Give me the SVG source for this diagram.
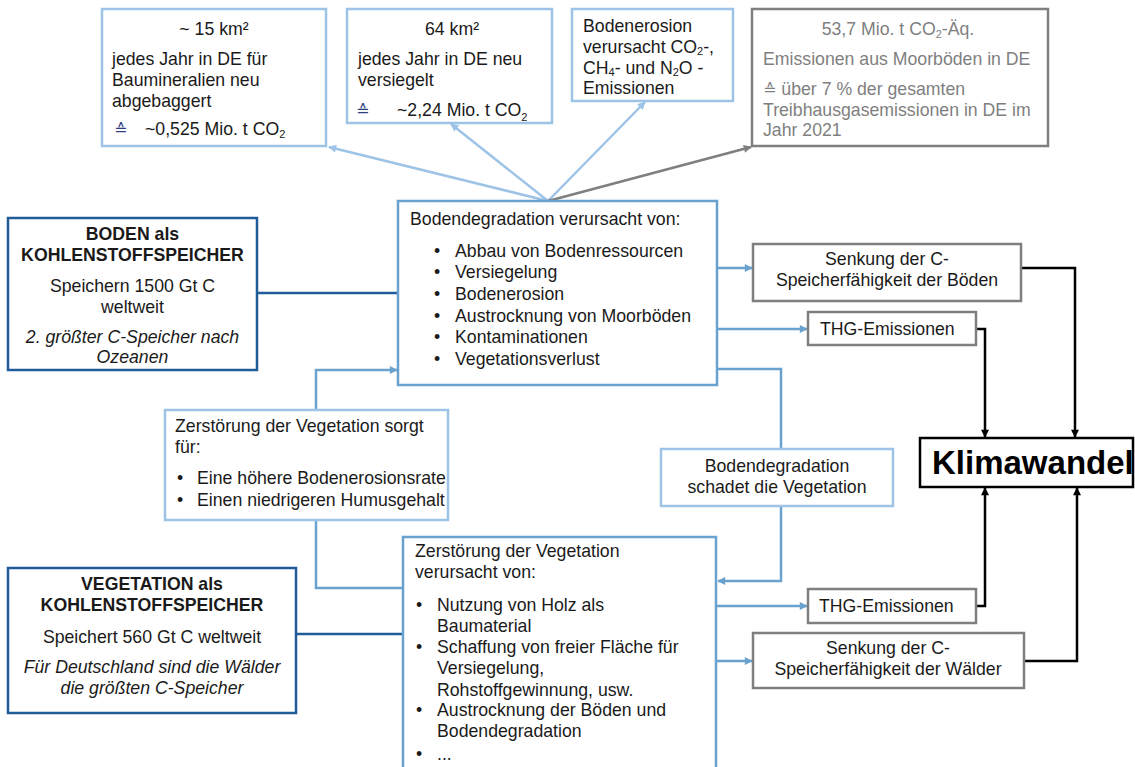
<svg xmlns="http://www.w3.org/2000/svg" width="1135" height="767" viewBox="0 0 1135 767">
<style>
text{font-family:"Liberation Sans",Arial,sans-serif;font-size:17.7px;fill:#1a1a1a}
.c{text-anchor:middle}
.b{font-weight:bold}
.i{font-style:italic}
.g{fill:#7f7f7f}
.eq{font-family:"DejaVu Sans","Liberation Sans",sans-serif;font-size:16px}
.lb{fill:#fff;stroke:#9dc3e6;stroke-width:2.5}
.mb{fill:#fff;stroke:#6aa2cf;stroke-width:2.5}
.db{fill:#fff;stroke:#1f5c99;stroke-width:2.5}
.gb{fill:#fff;stroke:#7f7f7f;stroke-width:2.5}
.kb{fill:#fff;stroke:#000;stroke-width:2.5}
.cl{fill:none;stroke:#9dc3e6;stroke-width:2.5}
.cm{fill:none;stroke:#6aa2cf;stroke-width:2.5}
.cd{fill:none;stroke:#1f5c99;stroke-width:2.5}
.cg{fill:none;stroke:#7f7f7f;stroke-width:2.5}
.ck{fill:none;stroke:#000;stroke-width:2.5}
</style>
<defs>
<marker id="aL" viewBox="0 0 10 10" refX="9" refY="5" markerWidth="9" markerHeight="8" markerUnits="userSpaceOnUse" orient="auto"><path d="M0,0L10,5L0,10z" fill="#9dc3e6"/></marker>
<marker id="aM" viewBox="0 0 10 10" refX="9" refY="5" markerWidth="9" markerHeight="8" markerUnits="userSpaceOnUse" orient="auto"><path d="M0,0L10,5L0,10z" fill="#6aa2cf"/></marker>
<marker id="aG" viewBox="0 0 10 10" refX="9" refY="5" markerWidth="9" markerHeight="8" markerUnits="userSpaceOnUse" orient="auto"><path d="M0,0L10,5L0,10z" fill="#7f7f7f"/></marker>
<marker id="aK" viewBox="0 0 10 10" refX="9" refY="5" markerWidth="9" markerHeight="8" markerUnits="userSpaceOnUse" orient="auto"><path d="M0,0L10,5L0,10z" fill="#000"/></marker>
<clipPath id="clip2"><rect x="347" y="9" width="205" height="114"/></clipPath>
</defs>

<g id="connectors">
<path class="cl" d="M548,201L329,147" marker-end="url(#aL)"/>
<path class="cl" d="M548,201L451,124" marker-end="url(#aL)"/>
<path class="cl" d="M548,201L645,102" marker-end="url(#aL)"/>
<path class="cg" d="M548,201L751,147" marker-end="url(#aG)"/>
<path class="cd" d="M257,293H398"/>
<path class="cm" d="M717,268H752" marker-end="url(#aM)"/>
<path class="cm" d="M717,329H807" marker-end="url(#aM)"/>
<path class="cm" d="M717,369H781V449"/>
<path class="cm" d="M781,506V581H718" marker-end="url(#aM)"/>
<path class="cm" d="M316,410V370H397" marker-end="url(#aM)"/>
<path class="cm" d="M316,520V588H403"/>
<path class="cd" d="M296,634H403"/>
<path class="cm" d="M716,606H807" marker-end="url(#aM)"/>
<path class="cm" d="M716,661H752" marker-end="url(#aM)"/>
<path class="ck" d="M1021,268H1075V437" marker-end="url(#aK)"/>
<path class="ck" d="M976,329H985V437" marker-end="url(#aK)"/>
<path class="ck" d="M976,606H985V488" marker-end="url(#aK)"/>
<path class="ck" d="M1024,661H1077V488" marker-end="url(#aK)"/>
</g>

<g id="box-abbau">
<rect class="lb" x="102" y="9" width="224" height="137"/>
<text class="c" x="214" y="35">~ 15 km²</text>
<text x="112" y="65">jedes Jahr in DE für</text>
<text x="112" y="86">Baumineralien neu</text>
<text x="112" y="107">abgebaggert</text>
<text class="eq" x="114" y="135" style="fill:#2f3f7f">≙</text>
<text x="145" y="135">~0,525 Mio. t CO<tspan font-size="11" dy="3">2</tspan></text>
</g>

<g id="box-versiegelt">
<rect class="lb" x="347" y="9" width="205" height="114"/>
<text class="c" x="452" y="35">64 km²</text>
<text x="358" y="65">jedes Jahr in DE neu</text>
<text x="358" y="86">versiegelt</text>
<g clip-path="url(#clip2)">
<text class="eq" x="356" y="116" style="fill:#2f3f7f">≙</text>
<text x="397" y="116">~2,24 Mio. t CO<tspan font-size="11" dy="5">2</tspan></text>
</g>
</g>

<g id="box-erosion">
<rect class="lb" x="572" y="9" width="161" height="92"/>
<text x="583" y="32">Bodenerosion</text>
<text x="583" y="53">verursacht CO<tspan font-size="11" dy="2">2</tspan><tspan dy="-2">-,</tspan></text>
<text x="583" y="74">CH<tspan font-size="11" dy="2">4</tspan><tspan dy="-2">- und N</tspan><tspan font-size="11" dy="2">2</tspan><tspan dy="-2">O -</tspan></text>
<text x="583" y="94">Emissionen</text>
</g>

<g id="box-moor">
<rect class="gb" x="752" y="9" width="296" height="137"/>
<text class="c g" x="898" y="35">53,7 Mio. t CO<tspan font-size="11" dy="3">2</tspan><tspan dy="-3">-Äq.</tspan></text>
<text class="g" x="763" y="65">Emissionen aus Moorböden in DE</text>
<text class="g" x="763" y="95"><tspan class="eq" style="fill:#7f7f7f">≙</tspan> über 7 % der gesamten</text>
<text class="g" x="763" y="116">Treibhausgasemissionen in DE im</text>
<text class="g" x="763" y="136">Jahr 2021</text>
</g>

<g id="box-boden">
<rect class="db" x="8" y="218" width="249" height="152"/>
<text class="c b" x="132.5" y="240">BODEN als</text>
<text class="c b" x="132.5" y="261">KOHLENSTOFFSPEICHER</text>
<text class="c" x="132.5" y="292">Speichern 1500 Gt C</text>
<text class="c" x="132.5" y="313">weltweit</text>
<text class="c i" x="132.5" y="343">2. größter C-Speicher nach</text>
<text class="c i" x="132.5" y="363">Ozeanen</text>
</g>

<g id="box-bodendegradation">
<rect class="mb" x="398" y="201" width="319" height="184"/>
<text x="410" y="225">Bodendegradation verursacht von:</text>
<text class="c" x="437" y="257">•</text><text x="455" y="257">Abbau von Bodenressourcen</text>
<text class="c" x="437" y="278">•</text><text x="455" y="278">Versiegelung</text>
<text class="c" x="437" y="300">•</text><text x="455" y="300">Bodenerosion</text>
<text class="c" x="437" y="322">•</text><text x="455" y="322">Austrocknung von Moorböden</text>
<text class="c" x="437" y="343">•</text><text x="455" y="343">Kontaminationen</text>
<text class="c" x="437" y="365">•</text><text x="455" y="365">Vegetationsverlust</text>
</g>

<g id="box-senkung-boeden">
<rect class="gb" x="753" y="244" width="268" height="57"/>
<text class="c" x="887" y="265">Senkung der C-</text>
<text class="c" x="887" y="286">Speicherfähigkeit der Böden</text>
</g>

<g id="box-thg1">
<rect class="gb" x="808" y="312" width="168" height="33"/>
<text x="820" y="335">THG-Emissionen</text>
</g>

<g id="box-sorgt">
<rect class="lb" x="165" y="410" width="283" height="110"/>
<text x="175" y="432">Zerstörung der Vegetation sorgt</text>
<text x="175" y="453">für:</text>
<text class="c" x="180" y="484">•</text><text x="197" y="484">Eine höhere Bodenerosionsrate</text>
<text class="c" x="180" y="506">•</text><text x="197" y="506">Einen niedrigeren Humusgehalt</text>
</g>

<g id="box-schadet">
<rect class="lb" x="661" y="449" width="232" height="57"/>
<text class="c" x="777" y="472">Bodendegradation</text>
<text class="c" x="777" y="493">schadet die Vegetation</text>
</g>

<g id="box-klimawandel">
<rect class="kb" x="920" y="438" width="213" height="49"/>
<text class="b" x="932" y="474" style="font-size:33px;fill:#000">Klimawandel</text>
</g>

<g id="box-vegetation">
<rect class="db" x="8" y="568" width="288" height="145"/>
<text class="c b" x="152" y="590">VEGETATION als</text>
<text class="c b" x="152" y="611">KOHLENSTOFFSPEICHER</text>
<text class="c" x="152" y="643">Speichert 560 Gt C weltweit</text>
<text class="c i" x="152" y="673">Für Deutschland sind die Wälder</text>
<text class="c i" x="152" y="694">die größten C-Speicher</text>
</g>

<g id="box-zerstoerung">
<rect class="mb" x="403" y="537" width="313" height="245"/>
<text x="415" y="557">Zerstörung der Vegetation</text>
<text x="415" y="578">verursacht von:</text>
<text class="c" x="419" y="611">•</text><text x="437" y="611">Nutzung von Holz als</text>
<text x="437" y="632">Baumaterial</text>
<text class="c" x="419" y="653">•</text><text x="437" y="653">Schaffung von freier Fläche für</text>
<text x="437" y="674">Versiegelung,</text>
<text x="437" y="696">Rohstoffgewinnung, usw.</text>
<text class="c" x="419" y="716">•</text><text x="437" y="716">Austrocknung der Böden und</text>
<text x="437" y="737">Bodendegradation</text>
<text class="c" x="419" y="760">•</text><text x="437" y="760">...</text>
</g>

<g id="box-thg2">
<rect class="gb" x="808" y="589" width="168" height="34"/>
<text x="819" y="612">THG-Emissionen</text>
</g>

<g id="box-senkung-waelder">
<rect class="gb" x="753" y="633" width="271" height="55"/>
<text class="c" x="888" y="654">Senkung der C-</text>
<text class="c" x="888" y="675">Speicherfähigkeit der Wälder</text>
</g>
</svg>
